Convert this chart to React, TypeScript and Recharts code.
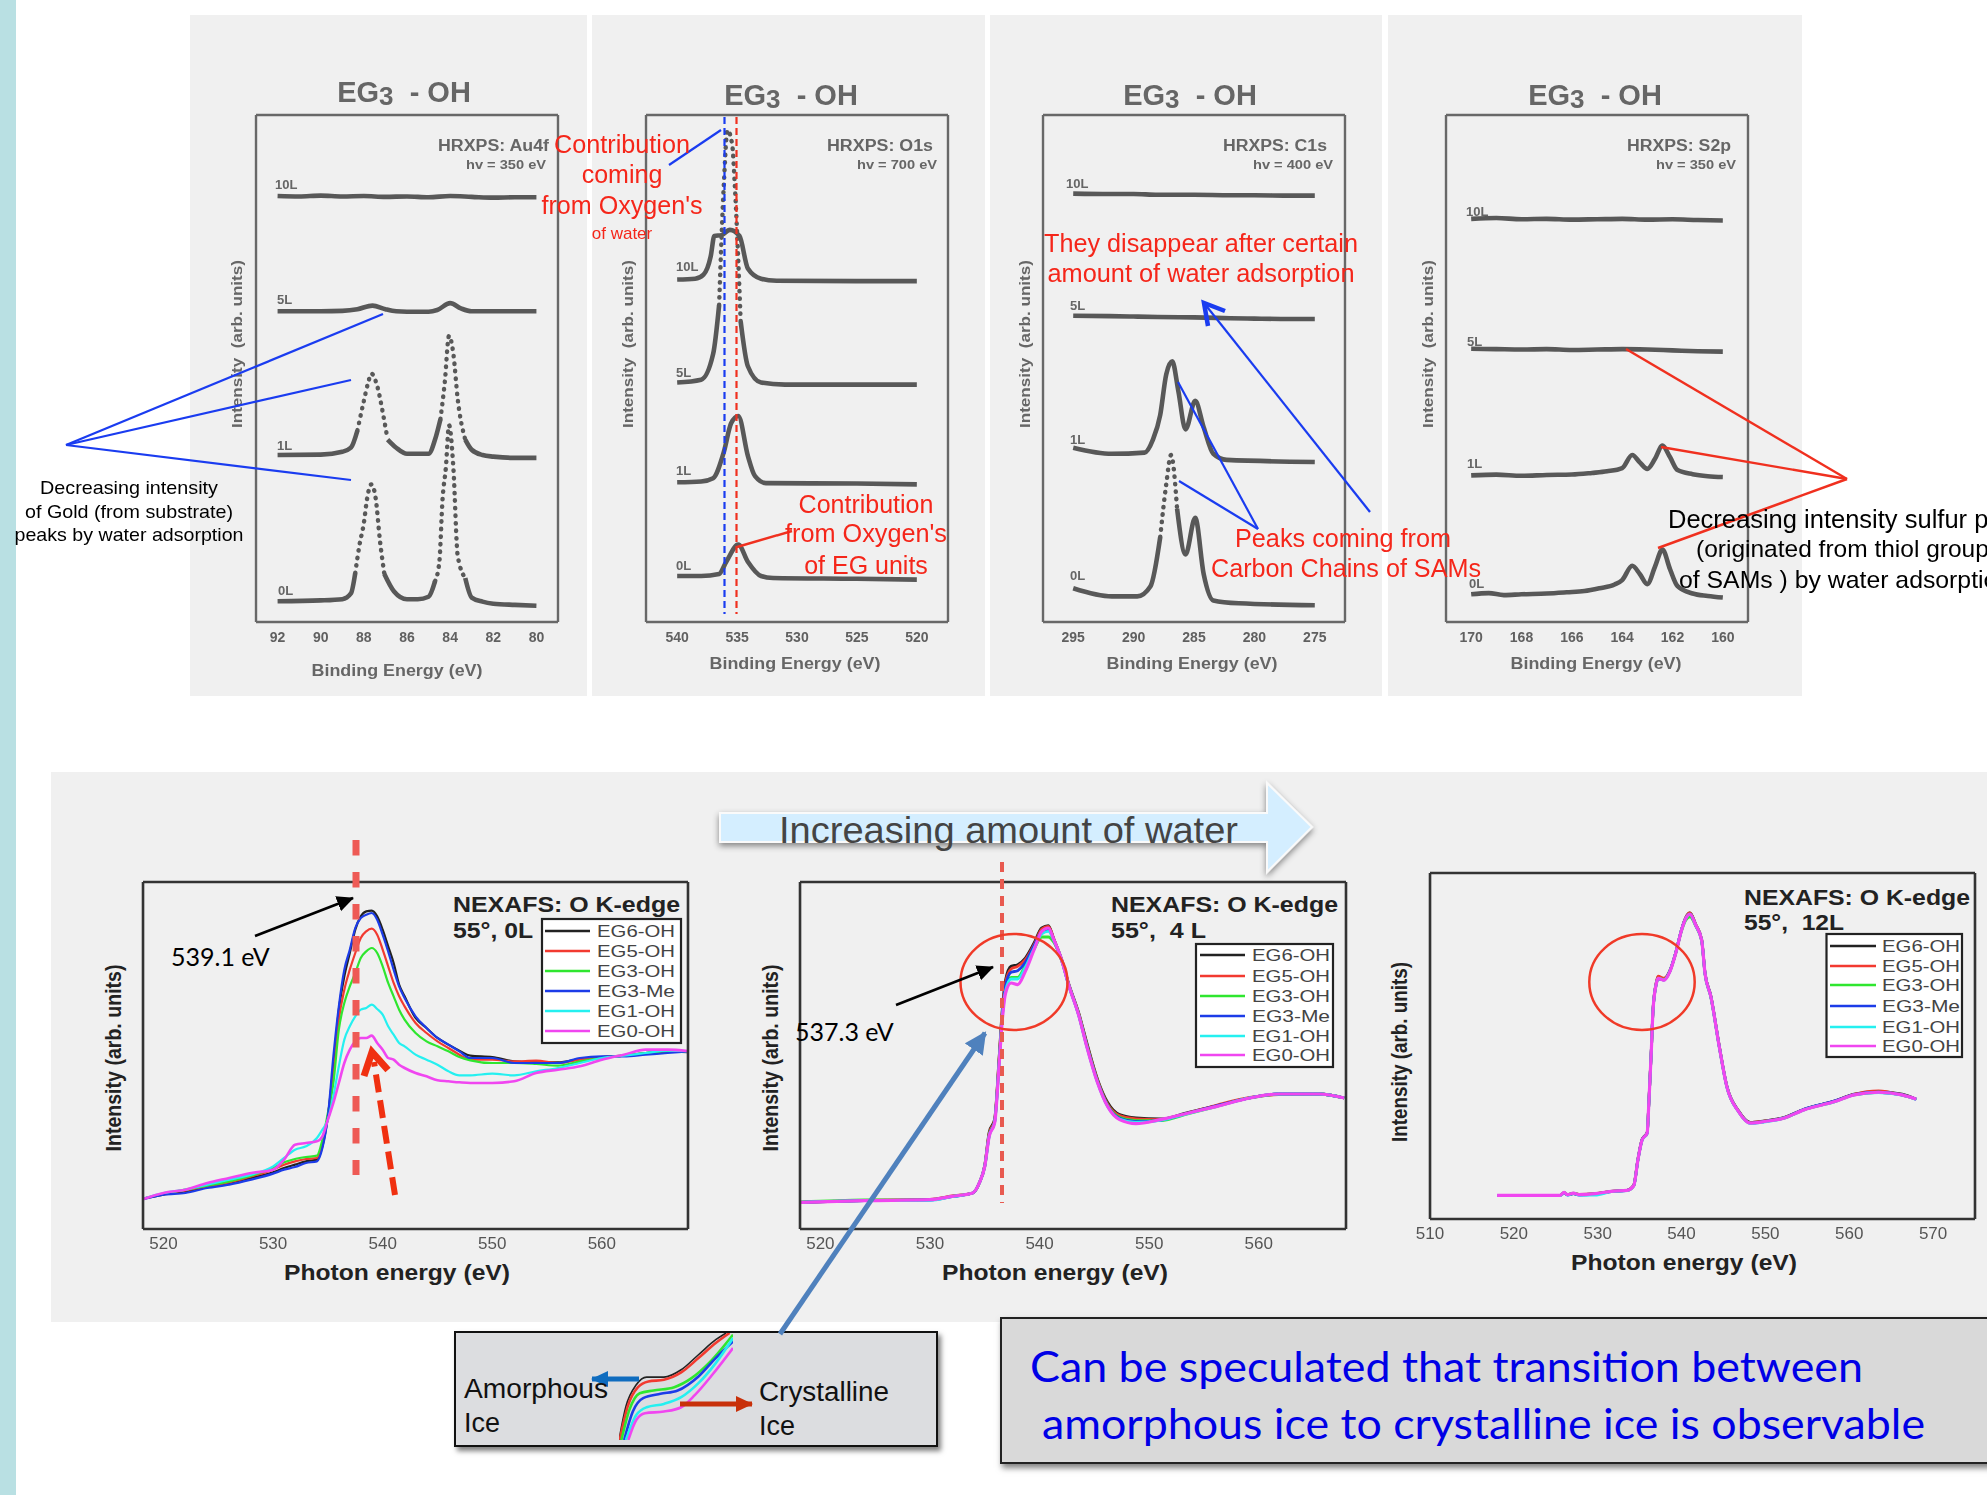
import React from 'react';
import { LineChart, Line, XAxis, YAxis } from 'recharts';

// ---------- HRXPS data (binding energy, offset intensity) ----------
const au10Lx = [92, 91, 90, 89, 88, 87, 86, 85, 84, 83, 82, 81, 80];
const au10Ly = [1046, 1045, 1047, 1045, 1046, 1044, 1045, 1043, 1046, 1044, 1042, 1043, 1043];
const au5Lx = [92, 90, 89, 88.3, 87.6, 87, 86.5, 86, 85, 84.6, 84, 83.5, 83, 82, 80];
const au5Ly = [763, 763, 764, 768, 777, 768, 763, 762, 762, 766, 783, 770, 763, 763, 763];
const au1Lx = [92, 90, 89, 88.6, 88.3, 88, 87.8, 87.65, 87.4, 87.1, 86.9, 86.5, 86, 85, 84.7, 84.45, 84.25, 84.05, 83.85, 83.65, 83.3, 83, 82.5, 82, 81, 80];
const au1Ly = [410, 411, 418, 428, 470, 543, 588, 610, 583, 508, 448, 428, 413, 413, 448, 498, 588, 703, 658, 548, 448, 423, 410, 406, 403, 403];
const au0Lx = [92, 90, 89, 88.6, 88.4, 88.2, 88, 87.85, 87.65, 87.45, 87.25, 87.05, 86.6, 86, 85.5, 85, 84.7, 84.5, 84.35, 84.2, 84.05, 83.85, 83.65, 83.3, 83, 82.5, 82, 81, 80];
const au0Ly = [51, 53, 56, 70, 120, 190, 243, 303, 338, 303, 198, 118, 75, 56, 56, 62, 100, 148, 303, 378, 483, 378, 163, 108, 60, 50, 45, 42, 40];

const o10Lx = [540, 538.5, 537.8, 537.2, 536.9, 536.3, 535.6, 534.8, 534.1, 533, 531.7, 525, 520];
const o10Ly = [841, 843, 853, 898, 948, 950, 963, 948, 868, 843, 838, 837, 837];
const o5Lx = [540, 538, 537, 536.5, 536.1, 535.8, 535.4, 535.2, 534.7, 534.1, 533, 531, 520];
const o5Ly = [588, 595, 658, 778, 1078, 1208, 1170, 1078, 738, 628, 588, 583, 583];
const o1Lx = [540, 538, 537, 536.1, 535.5, 534.9, 534.1, 533.5, 532.6, 525, 520];
const o1Ly = [343, 345, 353, 418, 488, 506, 408, 358, 341, 340, 338];
const o0Lx = [540, 538, 536.5, 535.9, 534.9, 534.1, 533, 532, 525, 520];
const o0Ly = [113, 113, 118, 148, 190, 148, 113, 108, 106, 104];

const c10Lx = [295, 292, 290, 288, 285, 282, 280, 277, 275];
const c10Ly = [1052, 1051, 1051, 1049, 1049, 1048, 1048, 1047, 1047];
const c5Lx = [295, 292, 290, 288, 285, 282, 280, 277, 275];
const c5Ly = [752, 751, 750, 749, 748, 746, 745, 744, 744];
const c1Lx = [295, 291.8, 289.1, 288.4, 287.8, 287.3, 286.8, 286.3, 285.7, 284.9, 284.2, 283.4, 282.3, 275];
const c1Ly = [428, 413, 416, 448, 508, 608, 640, 568, 473, 543, 478, 413, 398, 393];
const c0Lx = [295, 291.8, 289.7, 288.6, 287.8, 287.3, 286.9, 286.4, 285.7, 284.9, 284.2, 283.4, 281.3, 275];
const c0Ly = [83, 63, 63, 88, 208, 338, 410, 278, 166, 256, 118, 53, 46, 41];

const s10Lx = [170, 169, 168, 167, 166, 165, 164, 163, 162, 161, 160];
const s10Ly = [990, 992, 989, 990, 988, 989, 990, 988, 989, 987, 986];
const s5Lx = [170, 169, 168, 167, 166, 165, 164, 163, 162, 161, 160];
const s5Ly = [671, 670, 669, 670, 668, 669, 670, 669, 667, 665, 664];
const s1Lx = [170, 169, 168, 167, 166, 165.2, 164.6, 164, 163.6, 163.3, 163, 162.7, 162.4, 162.1, 161.8, 161.2, 160.6, 160];
const s1Ly = [360, 362, 359, 361, 362, 366, 370, 378, 410, 392, 376, 400, 433, 405, 373, 363, 358, 356];
const s0Lx = [170, 169.3, 168.7, 168, 167, 166.2, 165.5, 164.9, 164.3, 164, 163.6, 163.3, 163, 162.7, 162.4, 162.1, 161.8, 161.2, 160.6, 160];
const s0Ly = [68, 71, 66, 68, 70, 73, 76, 83, 92, 103, 138, 118, 93, 135, 178, 130, 88, 70, 64, 60];

// ---------- NEXAFS 0 L ----------
const n1E = [518, 520, 522, 524, 526, 528, 530, 531, 532, 533, 534, 534.5, 535, 535.5, 536, 536.5, 537, 537.5, 538, 538.5, 539, 539.5, 540, 540.5, 541, 541.5, 542, 543, 544, 545, 546, 547, 548, 550, 552, 554, 556, 558, 560, 562, 564, 566, 568];
const n1Eg6 = [90, 103, 113, 126, 138, 153, 170, 183, 193, 203, 208, 248, 338, 488, 658, 758, 828, 898, 938, 953, 955, 938, 898, 848, 798, 733, 698, 633, 603, 573, 553, 535, 520, 516, 503, 500, 500, 510, 516, 520, 528, 533, 530];
const n1Eg5 = [90, 105, 116, 128, 140, 158, 178, 193, 203, 210, 213, 258, 338, 458, 628, 718, 778, 828, 873, 893, 901, 883, 838, 788, 738, 698, 668, 618, 588, 563, 543, 523, 508, 508, 503, 505, 498, 508, 516, 520, 526, 533, 533];
const n1Eg3 = [90, 105, 118, 130, 143, 160, 183, 200, 210, 216, 220, 268, 348, 438, 598, 678, 728, 768, 813, 833, 843, 828, 788, 738, 698, 658, 628, 588, 563, 548, 533, 516, 506, 498, 498, 495, 490, 503, 513, 520, 528, 533, 533];
const n1Eg3Me = [88, 103, 108, 123, 133, 148, 166, 178, 186, 198, 203, 243, 338, 518, 668, 778, 838, 903, 933, 943, 948, 928, 883, 833, 778, 728, 693, 638, 603, 573, 553, 533, 513, 513, 498, 498, 498, 513, 518, 518, 523, 528, 533];
const n1Eg1 = [90, 108, 118, 133, 148, 163, 188, 213, 238, 248, 273, 298, 328, 398, 488, 568, 608, 638, 658, 663, 673, 660, 643, 608, 583, 558, 548, 523, 508, 493, 473, 461, 461, 466, 461, 473, 483, 498, 513, 520, 528, 535, 533];
const n1Eg0 = [88, 108, 118, 138, 153, 168, 178, 208, 253, 258, 263, 278, 328, 378, 438, 498, 538, 563, 573, 573, 580, 558, 538, 513, 508, 493, 483, 468, 458, 446, 443, 440, 438, 438, 443, 468, 478, 488, 508, 523, 538, 538, 533];

// ---------- NEXAFS 4 L ----------
const n2E = [518.2, 524, 530, 532, 533.9, 534.5, 535, 535.4, 535.9, 536.3, 536.6, 536.9, 537.4, 538, 538.7, 539.5, 540.2, 540.8, 541.3, 542.1, 542.6, 543.6, 544.3, 545.3, 546.2, 547.3, 548.8, 551, 553.6, 556.2, 559.2, 561.8, 565.5, 567.8];
const n2Eg6 = [80, 85, 88, 98, 108, 138, 192, 290, 330, 510, 660, 748, 788, 793, 813, 858, 903, 910, 870, 800, 742, 645, 560, 448, 380, 343, 333, 330, 350, 370, 393, 405, 405, 393];
const n2Eg5 = [80, 86, 89, 99, 108, 138, 190, 286, 326, 505, 652, 740, 780, 788, 808, 853, 900, 908, 870, 800, 740, 642, 555, 445, 375, 340, 330, 328, 348, 372, 395, 403, 405, 393];
const n2Eg3 = [81, 87, 88, 98, 108, 138, 188, 282, 322, 498, 640, 720, 755, 755, 790, 840, 876, 876, 860, 796, 738, 640, 552, 442, 372, 335, 325, 325, 346, 368, 393, 404, 405, 393];
const n2Eg3Me = [80, 85, 87, 97, 108, 138, 188, 280, 322, 495, 642, 730, 770, 775, 800, 850, 892, 898, 866, 798, 738, 638, 550, 440, 370, 332, 322, 326, 348, 370, 393, 405, 405, 393];
const n2Eg1 = [80, 85, 86, 97, 108, 138, 188, 278, 320, 490, 635, 715, 750, 750, 785, 842, 885, 893, 866, 798, 738, 638, 548, 438, 368, 330, 320, 326, 347, 368, 393, 405, 405, 393];
const n2Eg0 = [80, 85, 88, 98, 108, 138, 188, 278, 318, 488, 628, 708, 738, 733, 773, 838, 893, 903, 868, 798, 738, 638, 548, 438, 368, 328, 316, 328, 348, 368, 393, 405, 405, 393];

// ---------- NEXAFS 12 L ----------
const n3E = [518, 525.5, 526, 526.4, 527.1, 527.8, 529.7, 531.6, 533.5, 534.3, 534.8, 535.3, 535.9, 536.1, 536.4, 536.6, 537, 537.2, 537.9, 538.6, 539.3, 540, 540.5, 541, 541.7, 542.4, 542.8, 543.5, 544.5, 545.4, 546.8, 548.2, 549.9, 552.2, 554.6, 558.3, 560.6, 563.5, 566.3, 568];
const n3Eg6 = [71, 71, 78, 73, 76, 73, 76, 83, 86, 102, 180, 240, 260, 350, 510, 630, 712, 728, 722, 746, 800, 870, 906, 920, 885, 840, 740, 670, 520, 400, 325, 290, 295, 305, 330, 355, 375, 383, 375, 360];
const n3Eg5 = [71, 71, 79, 73, 77, 74, 76, 83, 86, 101, 179, 239, 259, 349, 509, 629, 711, 730, 724, 745, 799, 869, 906, 920, 884, 839, 739, 669, 519, 399, 324, 290, 294, 304, 329, 354, 375, 385, 372, 360];
const n3Eg3 = [71, 71, 80, 73, 78, 73, 76, 83, 86, 100, 178, 238, 258, 348, 508, 628, 708, 724, 720, 744, 798, 866, 898, 908, 880, 836, 736, 667, 518, 398, 323, 288, 293, 303, 328, 353, 373, 381, 373, 360];
const n3Eg3Me = [70, 71, 78, 72, 76, 72, 75, 82, 86, 100, 178, 238, 258, 348, 508, 628, 708, 722, 718, 745, 800, 870, 904, 916, 882, 838, 738, 668, 518, 398, 323, 288, 293, 304, 330, 355, 374, 381, 373, 360];
const n3Eg1 = [71, 70, 79, 72, 77, 72, 72, 82, 85, 100, 178, 237, 257, 347, 508, 628, 708, 723, 719, 744, 799, 869, 903, 916, 882, 837, 737, 667, 517, 397, 322, 287, 292, 303, 328, 353, 373, 380, 372, 359];
const n3Eg0 = [71, 71, 80, 73, 78, 73, 76, 83, 86, 100, 178, 238, 258, 348, 508, 628, 708, 723, 718, 743, 798, 868, 903, 916, 883, 838, 738, 668, 518, 398, 323, 288, 293, 303, 328, 353, 373, 381, 373, 360];

// ---------- inset curves ----------
const insBlackX = [520, 540, 570, 600, 650, 700, 750, 800, 830];
const insBlackY = [0, 100, 165, 188, 188, 210, 255, 300, 320];
const insRedX = [522, 545, 575, 605, 650, 700, 750, 800, 840];
const insRedY = [0, 100, 158, 175, 180, 202, 245, 290, 320];
const insBlueX = [527, 550, 580, 620, 680, 730, 780, 850];
const insBlueY = [0, 90, 140, 148, 158, 185, 230, 315];
const insGreenX = [535, 560, 590, 640, 690, 750, 800, 850];
const insGreenY = [0, 85, 125, 138, 148, 190, 245, 295];
const insCyanX = [540, 570, 600, 650, 700, 750, 800, 850];
const insCyanY = [0, 75, 98, 108, 128, 170, 230, 305];
const insMagentaX = [547, 570, 595, 650, 700, 740, 790, 850];
const insMagentaY = [0, 60, 80, 85, 98, 135, 195, 275];

const legendNames = ['EG6-OH', 'EG5-OH', 'EG3-OH', 'EG3-Me', 'EG1-OH', 'EG0-OH'];
const legendColors = ['#222222', '#f23a30', '#2fe62f', '#1c3ce8', '#25f0f0', '#f046f0'];

const SANS = '"Liberation Sans", Arial, sans-serif';
const LATO = 'Lato, sans-serif';

type Ser = { x: number[]; y: number[]; color: string; width: number; dotted?: [number, number][] };

const rows = (x: number[], y: number[]) => x.map((v, i) => ({ x: v, y: y[i] }));

function inRange(v: number, r: [number, number][], open: boolean) {
  return r.some(([a, b]) => (open ? v > a && v < b : v >= a && v <= b));
}

type ChartP = {
  fx: number; fy: number; fw: number; fh: number;
  domain: [number, number]; reversed?: boolean; yMax: number;
  series: Ser[]; labels: number[]; major: number[]; minor?: number[];
  tickStyle: any; labelGap: number; frame: string; frameW: number; blur?: number;
};

function Plot(p: ChartP) {
  const pad = 40;
  const bottom = 50;
  const axisCommon = {
    type: 'number' as const, dataKey: 'x', domain: p.domain, reversed: p.reversed,
    allowDataOverflow: true, interval: 0 as const, height: 0.01,
  };
  const line = { stroke: p.frame, strokeWidth: p.frameW };
  return (
    <div style={{ position: 'absolute', left: p.fx - pad, top: p.fy - pad, filter: p.blur ? `blur(${p.blur}px)` : undefined }}>
      <LineChart width={p.fw + 2 * pad} height={p.fh + pad + bottom} margin={{ top: pad, left: pad, right: pad, bottom }}>
        <XAxis {...axisCommon} xAxisId="main" ticks={p.labels} tickLine={false} tickSize={0} tickMargin={p.labelGap} axisLine={line} tick={p.tickStyle} />
        <XAxis {...axisCommon} xAxisId="bMaj" ticks={p.major} mirror tick={false} tickSize={6} tickLine={line} axisLine={false} />
        <XAxis {...axisCommon} xAxisId="tMaj" orientation="top" ticks={p.major} mirror tick={false} tickSize={6} tickLine={line} axisLine={line} />
        {p.minor ? <XAxis {...axisCommon} xAxisId="bMin" ticks={p.minor} mirror tick={false} tickSize={3} tickLine={line} axisLine={false} /> : null}
        {p.minor ? <XAxis {...axisCommon} xAxisId="tMin" orientation="top" ticks={p.minor} mirror tick={false} tickSize={3} tickLine={line} axisLine={false} /> : null}
        <YAxis yAxisId="main" type="number" domain={[0, p.yMax]} allowDataOverflow width={0.01} tick={false} tickLine={false} axisLine={line} />
        <YAxis yAxisId="right" orientation="right" type="number" domain={[0, p.yMax]} allowDataOverflow width={0.01} tick={false} tickLine={false} axisLine={line} />
        {p.series.map((s, i) => {
          const base = rows(s.x, s.y);
          const d = s.dotted;
          const solid = d ? base.map((r) => (inRange(r.x, d, true) ? { x: r.x, y: null } : r)) : base;
          return (
            <Line key={i} data={solid as any} xAxisId="main" yAxisId="main" dataKey="y" type="monotoneX" dot={false} activeDot={false}
              stroke={s.color} strokeWidth={s.width} isAnimationActive={false} />
          );
        })}
        {p.series.filter((s) => s.dotted).map((s, i) => {
          const dotted = rows(s.x, s.y).map((r) => (inRange(r.x, s.dotted!, false) ? r : { x: r.x, y: null }));
          return (
            <Line key={'d' + i} data={dotted as any} xAxisId="main" yAxisId="main" dataKey="y" type="monotoneX" dot={false} activeDot={false}
              stroke={s.color} strokeWidth={4.4} strokeLinecap="round" strokeDasharray="0.5 7" isAnimationActive={false} />
          );
        })}
      </LineChart>
    </div>
  );
}

const G = '#585858';
const hrx = (x: number[], y: number[], dotted?: [number, number][]): Ser => ({ x, y, color: G, width: 4.6, dotted });
const nex = (E: number[], ys: number[][], w: number): Ser[] =>
  ys.map((y, i) => ({ x: E, y, color: legendColors[i], width: i === 5 ? w + 0.4 : w }));

const topTick = { fill: '#606060', fontSize: 14, fontWeight: 'bold', fontFamily: SANS };
const botTick = { fill: '#555555', fontSize: 17, fontFamily: SANS };
const TOP_Y = 115, TOP_H = 507;

const T = (p: any) => {
  const { x, y, children, size = 16, fill = '#000', bold, anchor = 'start', font = SANS, len, rot } = p;
  return (
    <text x={x} y={y} fontSize={size} fill={fill} fontWeight={bold ? 'bold' : 'normal'} fontFamily={font} textAnchor={anchor}
      dominantBaseline="central" textLength={len} lengthAdjust={len ? 'spacingAndGlyphs' : undefined}
      transform={rot ? `rotate(${rot} ${x} ${y})` : undefined} xmlSpace="preserve">{children}</text>
  );
};

const Title = ({ x, y }: { x: number; y: number }) => (
  <text x={x} y={y} fontSize={29} fontWeight="bold" fill="#666" fontFamily={SANS} textAnchor="middle" dominantBaseline="central" xmlSpace="preserve">
    EG<tspan fontSize={26} dy={4}>3</tspan><tspan dy={-4}>{'  - OH'}</tspan>
  </text>
);

const Seg = ({ a, b, c, w = 2.2, marker, dash }: any) => (
  <line x1={a[0]} y1={a[1]} x2={b[0]} y2={b[1]} stroke={c} strokeWidth={w} markerEnd={marker ? `url(#${marker})` : undefined} strokeDasharray={dash} />
);

const Legend = ({ x, y, w, h, ys, lx, tx, lw = 45, tlen = 78 }: any) => (
  <g>
    <rect x={x} y={y} width={w} height={h} fill="#fff" stroke="#222" strokeWidth={2.2} />
    {legendNames.map((n, i) => (
      <g key={n}>
        <line x1={lx} x2={lx + lw} y1={ys[i]} y2={ys[i]} stroke={legendColors[i]} strokeWidth={2.4} />
        <T x={tx} y={ys[i]} size={17} fill="#444" len={tlen}>{n}</T>
      </g>
    ))}
  </g>
);

const BLUE = '#1a3cf0';
const RED = '#f0301f';
const TXT_RED = '#f5261a';

export default function App() {
  const minorAu = [91, 89, 87, 85, 83, 81];
  const labelsAu = [92, 90, 88, 86, 84, 82, 80];
  const labelsO = [540, 535, 530, 525, 520];
  const minorO = [537.5, 532.5, 527.5, 522.5];
  const labelsC = [295, 290, 285, 280, 275];
  const minorC = [292.5, 287.5, 282.5, 277.5];
  const labelsS = [170, 168, 166, 164, 162, 160];
  const minorS = [169, 167, 165, 163, 161];
  const labelsN = [520, 530, 540, 550, 560];
  const ticksN = [525, 535, 545, 555, 565];
  const labelsN3 = [510, 520, 530, 540, 550, 560, 570];
  const ticksN3 = [515, 525, 535, 545, 555, 565];

  const topCommon = { fy: TOP_Y, fh: TOP_H, fw: 302, yMax: 1245, reversed: true, tickStyle: topTick, labelGap: 10, frame: '#686868', frameW: 2.4, blur: 0.6 };
  const botCommon = { tickStyle: botTick, labelGap: 8, frame: '#333', frameW: 2.6, blur: 0.4 };

  return (
    <div style={{ position: 'absolute', left: 0, top: 0, width: 1987, height: 1495, overflow: 'hidden', background: '#fff' }}>
      <div style={{ position: 'absolute', left: 0, top: 0, width: 16, height: 1495, background: '#b9e0e3' }} />
      {[[190, 397], [592, 393], [990, 392], [1388, 414]].map(([l, w]) => (
        <div key={l} style={{ position: 'absolute', left: l, top: 15, width: w, height: 681, background: '#f0f0f0' }} />
      ))}
      <div style={{ position: 'absolute', left: 51, top: 772, width: 1936, height: 550, background: '#f0f0f0' }} />
      <div style={{ position: 'absolute', left: 454, top: 1331, width: 484, height: 116, background: '#dcdde0', border: '2.5px solid #111', boxSizing: 'border-box', boxShadow: '3px 4px 5px rgba(0,0,0,.5)' }} />
      <div style={{ position: 'absolute', left: 1000, top: 1317, width: 1000, height: 147, background: '#d9d9d9', border: '2px solid #222', boxSizing: 'border-box', boxShadow: '2px 4px 6px rgba(0,0,0,.5)' }} />

      <Plot {...topCommon} fx={256} domain={[79, 93]} labels={labelsAu} major={labelsAu} minor={minorAu}
        series={[hrx(au10Lx, au10Ly), hrx(au5Lx, au5Ly), hrx(au1Lx, au1Ly, [[86.9, 88.3], [83.3, 84.45]]), hrx(au0Lx, au0Ly, [[87.05, 88.4], [83.3, 84.7]])]} />
      <Plot {...topCommon} fx={646} domain={[517.4, 542.6]} labels={labelsO} major={labelsO} minor={minorO}
        series={[hrx(o10Lx, o10Ly), hrx(o5Lx, o5Ly, [[534.7, 536.5]]), hrx(o1Lx, o1Ly), hrx(o0Lx, o0Ly)]} />
      <Plot {...topCommon} fx={1043} domain={[272.5, 297.5]} labels={labelsC} major={labelsC} minor={minorC}
        series={[hrx(c10Lx, c10Ly), hrx(c5Lx, c5Ly), hrx(c1Lx, c1Ly), hrx(c0Lx, c0Ly, [[286.4, 287.8]])]} />
      <Plot {...topCommon} fx={1446} domain={[159, 171]} labels={labelsS} major={labelsS} minor={minorS}
        series={[hrx(s10Lx, s10Ly), hrx(s5Lx, s5Ly), hrx(s1Lx, s1Ly), hrx(s0Lx, s0Ly)]} />

      <Plot {...botCommon} fx={143} fy={882} fw={545} fh={347} domain={[518.13, 567.86]} yMax={1041} labels={labelsN} major={ticksN}
        series={nex(n1E, [n1Eg6, n1Eg5, n1Eg3, n1Eg3Me, n1Eg1, n1Eg0], 2.2)} />
      <Plot {...botCommon} fx={800} fy={882} fw={546} fh={347} domain={[518.14, 567.96]} yMax={1041} labels={labelsN} major={ticksN}
        series={nex(n2E, [n2Eg6, n2Eg5, n2Eg3, n2Eg3Me, n2Eg1, n2Eg0], 2.8)} />
      <Plot {...botCommon} fx={1430} fy={873} fw={545} fh={346} domain={[510, 575]} yMax={1040} labels={labelsN3} major={ticksN3}
        series={nex(n3E, [n3Eg6, n3Eg5, n3Eg3, n3Eg3Me, n3Eg1, n3Eg0], 2.8)} />

      {/* inset crop of the rising edge */}
      <div style={{ position: 'absolute', left: 619, top: 1333, filter: 'blur(0.3px)' }}>
        <LineChart width={114} height={107} margin={{ top: 0, left: 0, right: 0, bottom: 0 }}>
          <XAxis type="number" dataKey="x" domain={[520, 850]} hide allowDataOverflow />
          <YAxis type="number" domain={[0, 320]} hide allowDataOverflow />
          {[[insBlackX, insBlackY], [insRedX, insRedY], [insBlueX, insBlueY], [insGreenX, insGreenY], [insCyanX, insCyanY], [insMagentaX, insMagentaY]].map(([x, y], i) => (
            <Line key={i} data={rows(x, y)} dataKey="y" type="monotoneX" dot={false} activeDot={false} stroke={legendColors[i]} strokeWidth={i === 0 ? 1.6 : 2.6} isAnimationActive={false} />
          ))}
        </LineChart>
      </div>

      <svg width={1987} height={1495} style={{ position: 'absolute', left: 0, top: 0, pointerEvents: 'none' }}>
        <defs>
          <marker id="hBlack" markerUnits="userSpaceOnUse" markerWidth="20" markerHeight="20" refX="16" refY="8" orient="auto"><path d="M0,0 L17,8 L0,16 Z" fill="#000" /></marker>
          <marker id="hSteel" markerUnits="userSpaceOnUse" markerWidth="26" markerHeight="26" refX="20" refY="11" orient="auto"><path d="M0,0 L22,11 L0,22 Z" fill="#4f81bd" /></marker>
          <marker id="hCob" markerUnits="userSpaceOnUse" markerWidth="20" markerHeight="20" refX="16" refY="8" orient="auto"><path d="M0,0 L17,8 L0,16 Z" fill="#0f6cbf" /></marker>
          <marker id="hBrick" markerUnits="userSpaceOnUse" markerWidth="20" markerHeight="20" refX="16" refY="8" orient="auto"><path d="M0,0 L17,8 L0,16 Z" fill="#c8300a" /></marker>
          <filter id="sh" x="-10%" y="-30%" width="120%" height="170%"><feDropShadow dx="0" dy="3" stdDeviation="3" floodColor="#000" floodOpacity="0.45" /></filter>
          <filter id="soft"><feGaussianBlur stdDeviation="0.4" /></filter>
        </defs>

        {/* top panel text */}
        <g filter="url(#soft)">
          <Title x={404} y={92} /><Title x={791} y={95} /><Title x={1190} y={95} /><Title x={1595} y={95} />
          {[[397, 670], [795, 663], [1192, 663], [1596, 663]].map(([x, y]) => (
            <T key={x} x={x} y={y} size={17} bold fill="#666" anchor="middle" len={171}>Binding Energy (eV)</T>
          ))}
          {[236, 627, 1024, 1427].map((x) => (
            <T key={x} x={x} y={344} size={15} bold fill="#666" anchor="middle" len={168} rot={-90}>Intensity  (arb. units)</T>
          ))}
          <T x={549} y={145} size={16} bold fill="#666" anchor="end" len={111}>HRXPS: Au4f</T>
          <T x={546} y={165} size={12} bold fill="#666" anchor="end" len={80}>hv = 350 eV</T>
          <T x={933} y={145} size={16} bold fill="#666" anchor="end" len={106}>HRXPS: O1s</T>
          <T x={937} y={165} size={12} bold fill="#666" anchor="end" len={80}>hv = 700 eV</T>
          <T x={1327} y={145} size={16} bold fill="#666" anchor="end" len={104}>HRXPS: C1s</T>
          <T x={1333} y={165} size={12} bold fill="#666" anchor="end" len={80}>hv = 400 eV</T>
          <T x={1731} y={145} size={16} bold fill="#666" anchor="end" len={104}>HRXPS: S2p</T>
          <T x={1736} y={165} size={12} bold fill="#666" anchor="end" len={80}>hv = 350 eV</T>
          {[[275, 184, '10L'], [277, 299, '5L'], [277, 445, '1L'], [278, 590, '0L'],
            [676, 266, '10L'], [676, 372, '5L'], [676, 470, '1L'], [676, 565, '0L'],
            [1066, 183, '10L'], [1070, 305, '5L'], [1070, 439, '1L'], [1070, 575, '0L'],
            [1466, 211, '10L'], [1467, 341, '5L'], [1467, 463, '1L'], [1469, 583, '0L']].map(([x, y, t]) => (
              <T key={`${x}${y}`} x={x} y={y} size={13} bold fill="#666">{t}</T>
            ))}
        </g>

        {/* Au annotations */}
        <Seg a={[66, 445]} b={[383, 314]} c={BLUE} />
        <Seg a={[66, 445]} b={[351, 380]} c={BLUE} />
        <Seg a={[66, 445]} b={[351, 480]} c={BLUE} />
        <T x={129} y={487} size={19} anchor="middle" len={178}>Decreasing intensity</T>
        <T x={129} y={511} size={19} anchor="middle" len={208}>of Gold (from substrate)</T>
        <T x={129} y={534} size={19} anchor="middle" len={229}>peaks by water adsorption</T>

        {/* O1s annotations */}
        <Seg a={[724.5, 117]} b={[724.5, 614]} c={BLUE} dash="7 4" />
        <Seg a={[736.5, 117]} b={[736.5, 614]} c={RED} dash="7 4" />
        <Seg a={[669, 165]} b={[721, 130]} c={BLUE} />
        <Seg a={[737, 547]} b={[792, 531]} c={RED} w={2.4} />
        <T x={622} y={144} size={25} fill={TXT_RED} anchor="middle" len={136}>Contribution</T>
        <T x={622} y={174} size={25} fill={TXT_RED} anchor="middle">coming</T>
        <T x={622} y={205} size={25} fill={TXT_RED} anchor="middle" len={161}>from Oxygen's</T>
        <T x={622} y={233} size={17} fill={TXT_RED} anchor="middle">of water</T>
        <T x={866} y={504} size={25} fill={TXT_RED} anchor="middle">Contribution</T>
        <T x={866} y={533} size={25} fill={TXT_RED} anchor="middle" len={162}>from Oxygen's</T>
        <T x={866} y={565} size={25} fill={TXT_RED} anchor="middle">of EG units</T>

        {/* C1s annotations */}
        <T x={1201} y={243} size={25} fill={TXT_RED} anchor="middle" len={314}>They disappear after certain</T>
        <T x={1201} y={273} size={25} fill={TXT_RED} anchor="middle" len={307}>amount of water adsorption</T>
        <Seg a={[1370, 512]} b={[1204, 303]} c={BLUE} />
        <polyline points="1225,311 1204,303 1208,326" fill="none" stroke={BLUE} strokeWidth={4.5} />
        <Seg a={[1258, 529]} b={[1178, 382]} c={BLUE} />
        <Seg a={[1258, 529]} b={[1179, 481]} c={BLUE} />
        <T x={1343} y={538} size={25} fill={TXT_RED} anchor="middle" len={216}>Peaks coming from</T>
        <T x={1346} y={568} size={25} fill={TXT_RED} anchor="middle" len={270}>Carbon Chains of SAMs</T>

        {/* S2p annotations */}
        <Seg a={[1847, 479]} b={[1626, 349]} c={RED} w={2.4} />
        <Seg a={[1847, 479]} b={[1661, 447]} c={RED} w={2.4} />
        <Seg a={[1847, 479]} b={[1658, 548]} c={RED} w={2.4} />
        <T x={1668} y={519} size={25.5}>Decreasing intensity sulfur peaks</T>
        <T x={1696} y={548} size={24.5}>(originated from thiol groups)</T>
        <T x={1679} y={579} size={24.8}>of SAMs ) by water adsorption</T>

        {/* big arrow */}
        <polygon points="720,813 1267,813 1267,783 1312,827 1267,872 1267,842 720,842" fill="#d4eeff" stroke="#fafafa" strokeWidth={2} filter="url(#sh)" />
        <T x={779} y={830} size={36} fill="#444" len={459}>Increasing amount of water</T>

        {/* NEXAFS 0L annotations */}
        <line x1={356} x2={356} y1={840} y2={1175} stroke="#ee5a55" strokeWidth={7} strokeDasharray="15.6 16.4" />
        <Seg a={[255, 936]} b={[353, 898]} c="#000" w={2.6} marker="hBlack" />
        <T x={171} y={956} size={25} font={LATO}>539.1 eV</T>
        <Seg a={[395, 1195]} b={[374, 1062]} c="#f03010" w={6} dash="18 8" />
        <polyline points="364,1076 372,1052 388,1070" fill="none" stroke="#f03010" strokeWidth={7} />
        <T x={453} y={904} size={22} bold fill="#222" len={227}>NEXAFS: O K-edge</T>
        <T x={453} y={930} size={22} bold fill="#222" len={80}>55°, 0L</T>
        <Legend x={542} y={919} w={139} h={124} ys={[931, 951, 971, 991, 1011, 1031]} lx={545} tx={597} />
        <T x={397} y={1272} size={22} bold fill="#222" anchor="middle" len={226}>Photon energy (eV)</T>
        <T x={113} y={1058} size={22} bold fill="#222" anchor="middle" len={187} rot={-90}>Intensity (arb. units)</T>

        {/* NEXAFS 4L annotations */}
        <line x1={1002} x2={1002} y1={862} y2={1203} stroke="#e85a50" strokeWidth={4} strokeDasharray="10 7" />
        <ellipse cx={1014} cy={982} rx={53.5} ry={48} fill="none" stroke="#f03a28" strokeWidth={2.5} />
        <Seg a={[896, 1005]} b={[993, 967]} c="#000" w={2.6} marker="hBlack" />
        <T x={795} y={1031} size={25} font={LATO}>537.3 eV</T>
        <Seg a={[780, 1334]} b={[985, 1033]} c="#4f81bd" w={5} marker="hSteel" />
        <T x={1111} y={904} size={22} bold fill="#222" len={227}>NEXAFS: O K-edge</T>
        <T x={1111} y={930} size={22} bold fill="#222" len={95}>55°,  4 L</T>
        <Legend x={1196} y={944} w={137} h={123} ys={[955, 976, 996, 1016, 1036, 1055]} lx={1200} tx={1252} />
        <T x={1055} y={1272} size={22} bold fill="#222" anchor="middle" len={226}>Photon energy (eV)</T>
        <T x={770} y={1058} size={22} bold fill="#222" anchor="middle" len={187} rot={-90}>Intensity (arb. units)</T>

        {/* NEXAFS 12L annotations */}
        <ellipse cx={1642} cy={982} rx={52.7} ry={48} fill="none" stroke="#f03a28" strokeWidth={2.5} />
        <T x={1744} y={897} size={22} bold fill="#222" len={226}>NEXAFS: O K-edge</T>
        <T x={1744} y={922} size={22} bold fill="#222" len={100}>55°,  12L</T>
        <Legend x={1826.5} y={934} w={135.5} h={123} ys={[946, 966, 985, 1006, 1027, 1046]} lx={1830} tx={1882} lw={46} />
        <T x={1684} y={1262} size={22} bold fill="#222" anchor="middle" len={226}>Photon energy (eV)</T>
        <T x={1399} y={1052} size={22} bold fill="#222" anchor="middle" len={180} rot={-90}>Intensity (arb. units)</T>

        {/* inset annotations */}
        <Seg a={[639, 1379]} b={[592, 1379]} c="#0f6cbf" w={5} marker="hCob" />
        <Seg a={[680, 1404]} b={[752, 1404]} c="#c8300a" w={5} marker="hBrick" />
        <T x={464} y={1389} size={27} fill="#111" len={144}>Amorphous</T>
        <T x={464} y={1423} size={27} fill="#111">Ice</T>
        <T x={759} y={1392} size={27} fill="#111" len={130}>Crystalline</T>
        <T x={759} y={1426} size={27} fill="#111">Ice</T>

        <T x={1030} y={1366} size={42} fill="#0000e6" font={LATO} len={833}>Can be speculated that transition between</T>
        <T x={1042} y={1423} size={42} fill="#0000e6" font={LATO} len={883}>amorphous ice to crystalline ice is observable</T>
      </svg>
    </div>
  );
}
